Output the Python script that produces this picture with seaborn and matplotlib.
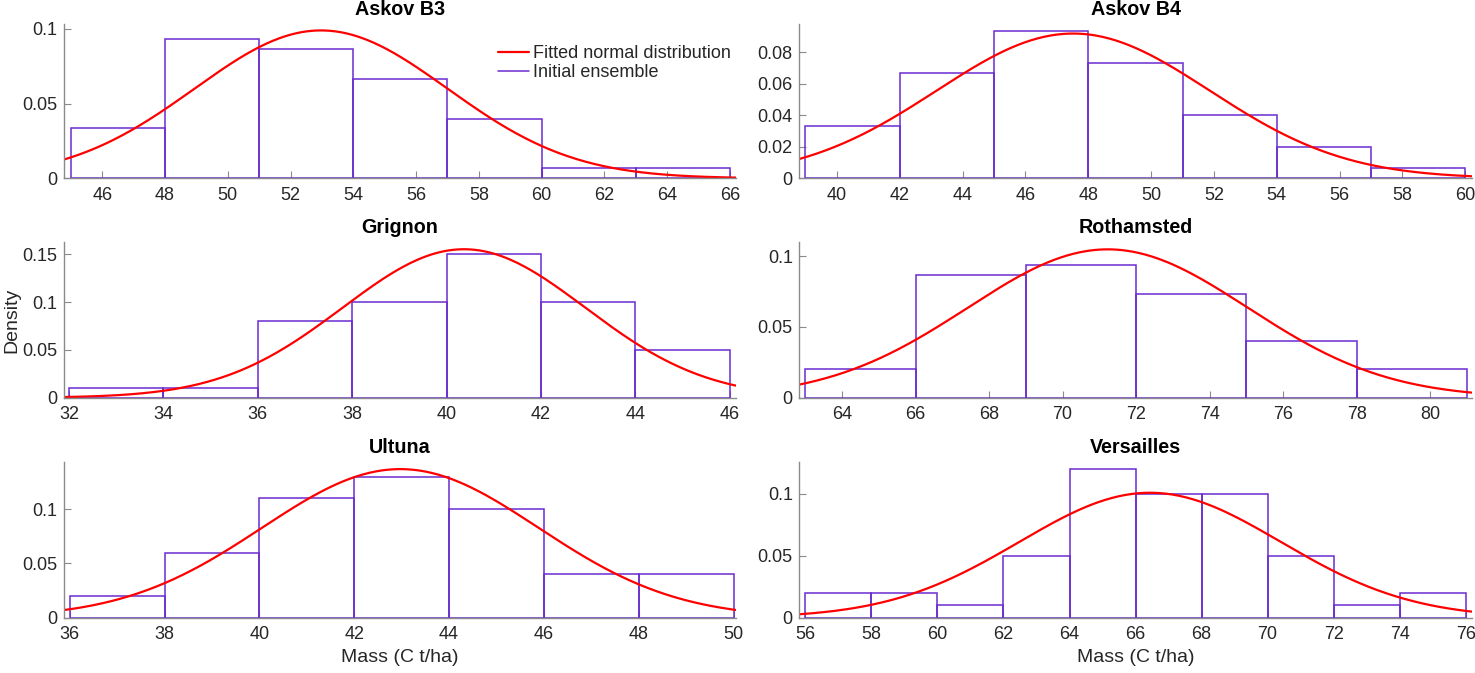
import numpy as np
import pandas as pd
import matplotlib
matplotlib.use('Agg')
import matplotlib.pyplot as plt
from matplotlib.lines import Line2D
import seaborn as sns

# Sites, in panel order (row by row)
sites = ['Askov B3', 'Askov B4', 'Grignon', 'Rothamsted', 'Ultuna', 'Versailles']

# Histogram bin edges (C t/ha) and ensemble member counts per bin (50 members)
edges_b3 = [45, 48, 51, 54, 57, 60, 63, 66]
counts_b3 = [5, 14, 13, 10, 6, 1, 1]
edges_b4 = [39, 42, 45, 48, 51, 54, 57, 60]
counts_b4 = [5, 10, 14, 11, 6, 3, 1]
edges_grignon = [32, 34, 36, 38, 40, 42, 44, 46]
counts_grignon = [1, 1, 8, 10, 15, 10, 5]
edges_roth = [63, 66, 69, 72, 75, 78, 81]
counts_roth = [3, 13, 14, 11, 6, 3]
edges_ultuna = [36, 38, 40, 42, 44, 46, 48, 50]
counts_ultuna = [2, 6, 11, 13, 10, 4, 4]
edges_vers = [56, 58, 60, 62, 64, 66, 68, 70, 72, 74, 76]
counts_vers = [2, 2, 1, 5, 12, 10, 10, 5, 1, 2]

# Fitted normal distribution parameters (mean, std)
fit_mean = [52.97, 47.52, 40.37, 71.23, 42.97, 66.44]
fit_std = [4.03, 4.34, 2.57, 3.81, 2.91, 3.96]

# Axis ranges and ticks
xlims = [(44.77, 66.19), (38.81, 60.2), (31.89, 46.13), (62.84, 81.13), (35.87, 50.05), (55.82, 76.18)]
ylims = [0.1031, 0.0978, 0.1625, 0.1097, 0.1434, 0.1253]
xticks = [range(46, 67, 2), range(40, 61, 2), range(32, 47, 2), range(64, 81, 2), range(36, 51, 2), range(56, 77, 2)]
yticks = [[0, 0.05, 0.1], [0, 0.02, 0.04, 0.06, 0.08], [0, 0.05, 0.1, 0.15],
          [0, 0.05, 0.1], [0, 0.05, 0.1], [0, 0.05, 0.1]]

all_edges = [edges_b3, edges_b4, edges_grignon, edges_roth, edges_ultuna, edges_vers]
all_counts = [counts_b3, counts_b4, counts_grignon, counts_roth, counts_ultuna, counts_vers]

sns.set_style('ticks')
plt.rcParams['font.family'] = ['Liberation Sans', 'DejaVu Sans']

hist_color = '#6a2bd0'
fit_color = '#ff0000'
axis_color = '#8a8a8a'
text_color = '#262626'

fig = plt.figure(figsize=(14.75, 6.73), dpi=100)

# axes positions [left, bottom, width, height] in figure fractions
col_left = [0.0432, 0.5420]
col_width = 0.4557
row_bottom = [0.7351, 0.4091, 0.0822]
row_height = [0.2288, 0.2309, 0.2309]

for i, site in enumerate(sites):
    r, c = divmod(i, 2)
    ax = fig.add_axes([col_left[c], row_bottom[r], col_width, row_height[r]])

    edges = list(all_edges[i])
    centers = [(a + b) / 2 for a, b in zip(edges[:-1], edges[1:])]
    df = pd.DataFrame({'mass': centers, 'n': all_counts[i]})

    sns.histplot(data=df, x='mass', weights='n', bins=edges, stat='density',
                 element='bars', fill=False, color=hist_color, linewidth=1.1, ax=ax)

    xs = np.linspace(xlims[i][0], xlims[i][1], 300)
    pdf = np.exp(-0.5 * ((xs - fit_mean[i]) / fit_std[i]) ** 2) / (fit_std[i] * np.sqrt(2 * np.pi))
    sns.lineplot(x=xs, y=pdf, color=fit_color, linewidth=1.6, ax=ax)

    ax.set_xlim(*xlims[i])
    ax.set_ylim(0, ylims[i])
    ax.set_xticks(list(xticks[i]))
    ax.set_yticks(yticks[i])
    ax.set_yticklabels(['%g' % v for v in yticks[i]])
    ax.set_title(site, fontsize=14.2, fontweight='bold', color='black', pad=7)
    ax.set_xlabel('')
    ax.set_ylabel('')

    for s in ['top', 'right']:
        ax.spines[s].set_visible(False)
    for s in ['left', 'bottom']:
        ax.spines[s].set_color(axis_color)
        ax.spines[s].set_linewidth(1.0)
    ax.tick_params(direction='in', length=5, width=0.8, color=axis_color,
                   labelsize=13, labelcolor=text_color)
    ax.tick_params(axis='x', pad=6.2)
    ax.tick_params(axis='y', pad=4.8)

    if i == 2:
        ax.set_ylabel('Density', fontsize=14, color=text_color, labelpad=1)
    if r == 2:
        ax.set_xlabel('Mass (C t/ha)', fontsize=14, color=text_color, labelpad=4)

    if i == 0:
        handles = [Line2D([], [], color=fit_color, linewidth=1.6),
                   Line2D([], [], color=hist_color, linewidth=1.1)]
        ax.legend(handles, ['Fitted normal distribution', 'Initial ensemble'],
                  loc='upper left', bbox_to_anchor=(0.646, 0.865), frameon=False,
                  fontsize=13, handlelength=1.72, handletextpad=0.2,
                  labelspacing=0.1, borderpad=0, borderaxespad=0,
                  labelcolor=text_color)

fig.savefig('out.png', dpi=100)
